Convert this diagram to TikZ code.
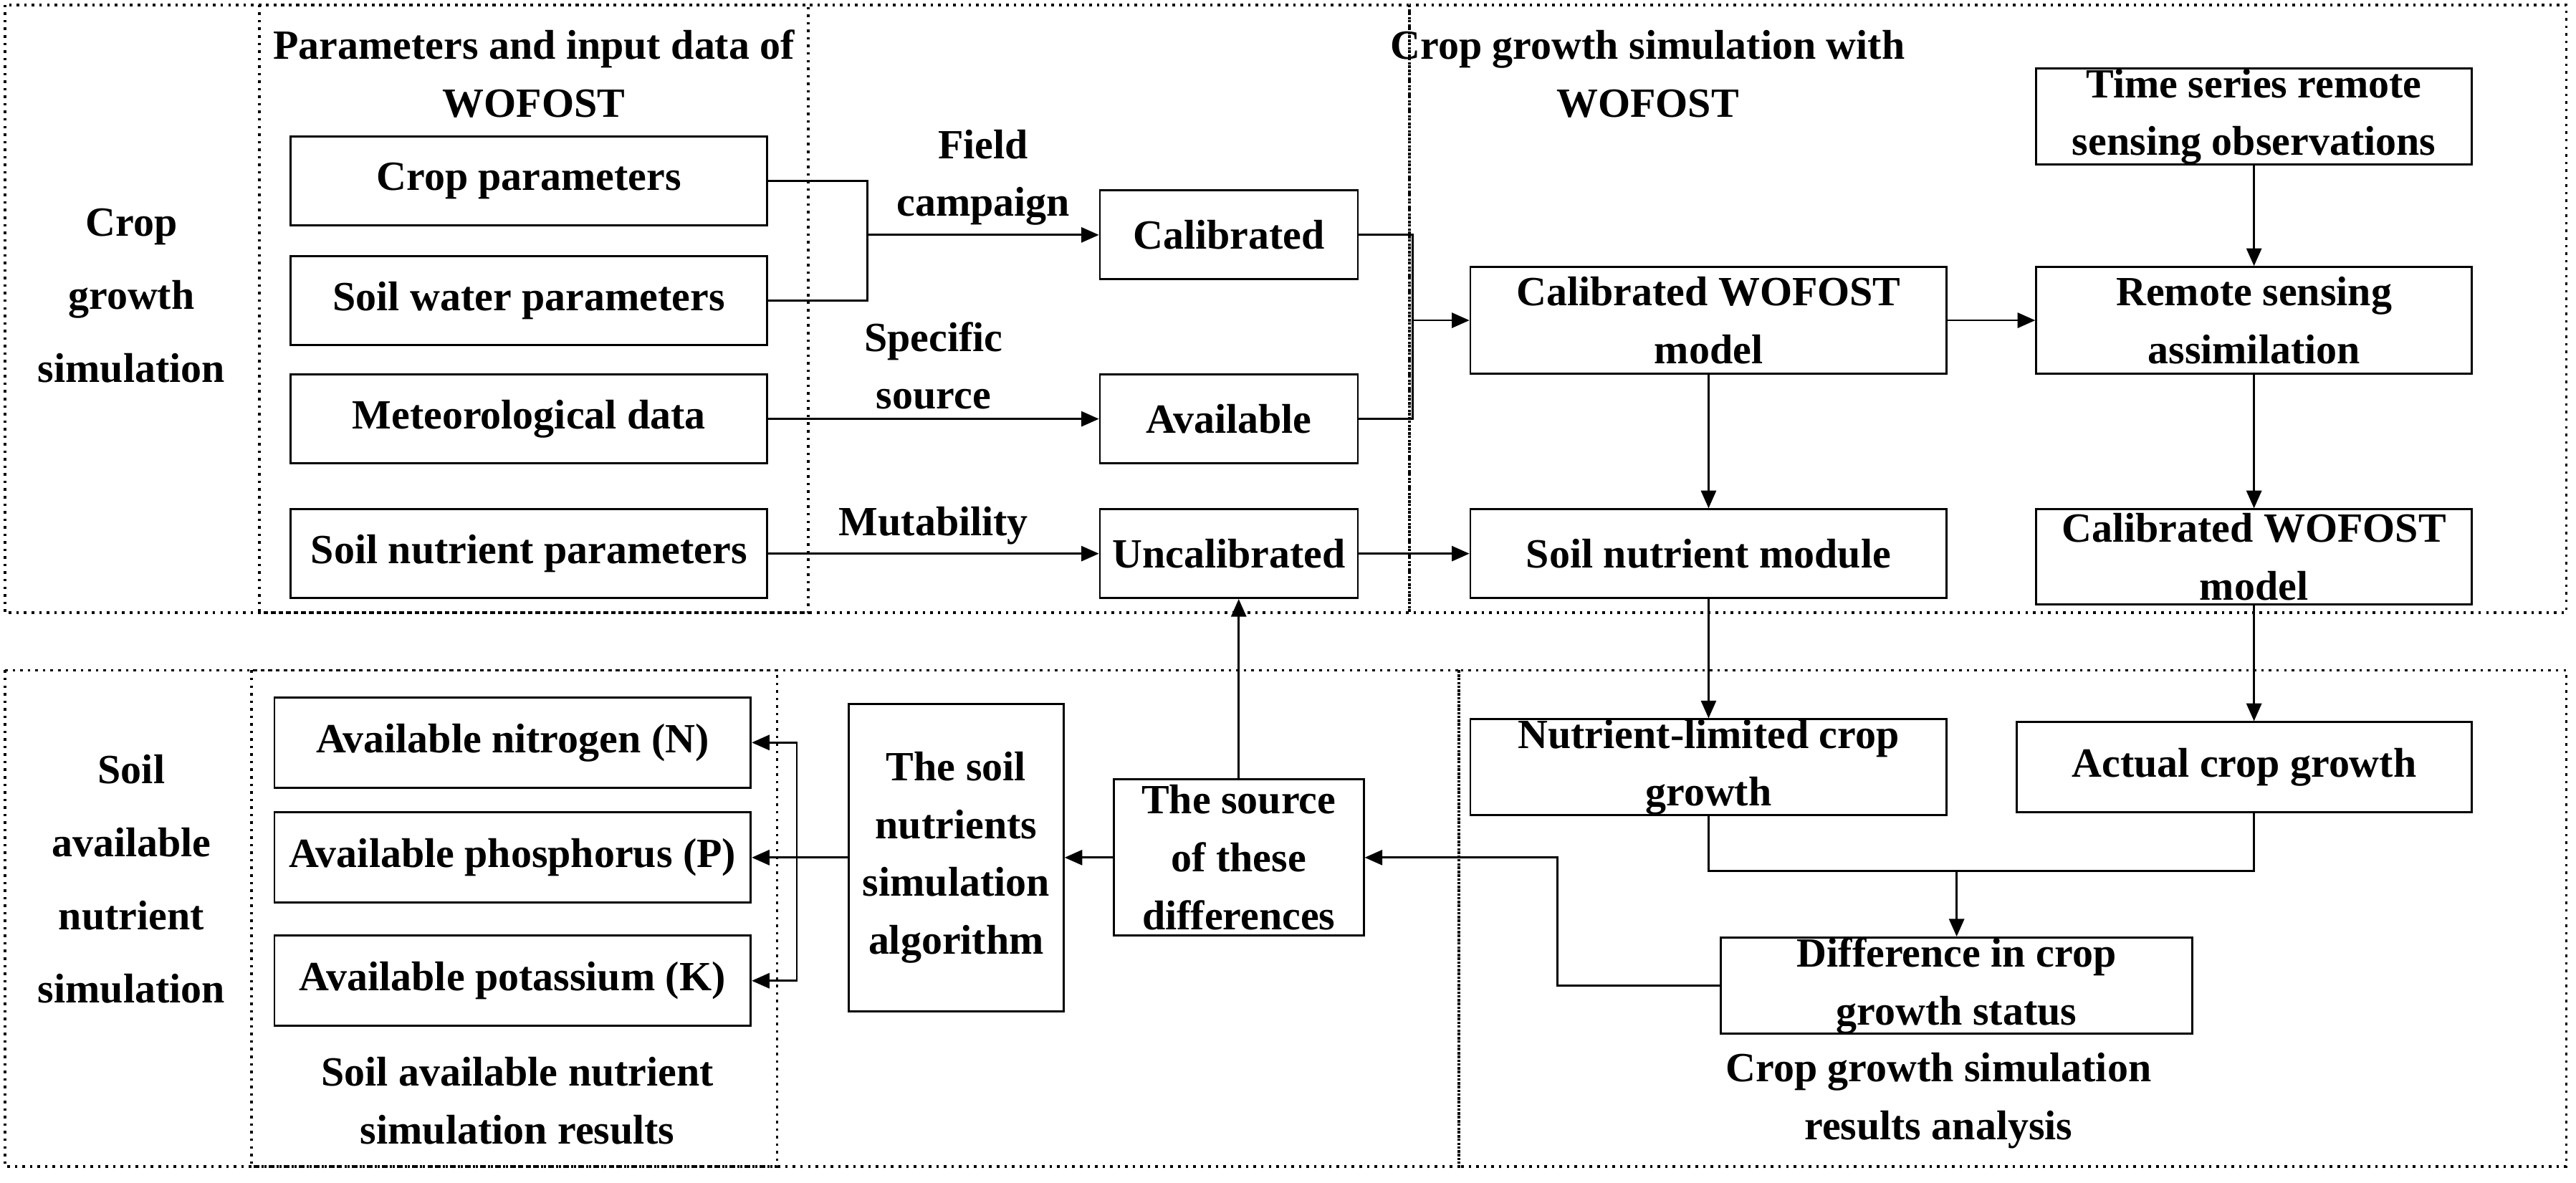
\documentclass[tikz,border=0pt]{standalone}
\usepackage{fontspec}
\setmainfont{Liberation Serif}
\usetikzlibrary{positioning, calc, arrows.meta}

\tikzset{
    box/.style = {draw, rectangle, line width = 0.8pt, align = center,
        font = \fontsize{16.5}{23}\selectfont\bfseries, inner sep = 0pt},
    lbl/.style = {align = center, font = \fontsize{16.5}{23}\selectfont\bfseries},
    zone/.style = {draw, line width = 1pt, dotted},
    link/.style = {line width = 0.8pt},
    flow/.style = {line width = 0.8pt, -{Triangle[length = 7pt, width = 6pt]}}
}

\begin{document}
\begin{tikzpicture}[x = 0.02293cm, y = -0.02293cm]
    \useasboundingbox (0,0) rectangle (1568,720);
    % dotted zones
    \draw [zone] (3,3) rectangle (858,373);
    \draw [zone] (858,3) rectangle (1562,373);
    \draw [zone] (158,3) rectangle (492,373);
    \draw [zone] (3,408) rectangle (888,710);
    \draw [zone] (888,408) rectangle (1562,710);
    \draw [zone] (153,408) rectangle (473,710);

    % zone titles
    \node [lbl, font = \fontsize{16.5}{29}\selectfont\bfseries] (tcrop) at (80,180)
        {Crop\\growth\\simulation};
    \node [lbl, font = \fontsize{16.5}{29}\selectfont\bfseries] (tsoil) at (80,535)
        {Soil\\available\\nutrient\\simulation};
    \node [lbl] (tpar) at (325,45) {Parameters and input data of\\WOFOST};
    \node [lbl] (twof) at (1003,45) {Crop growth simulation with\\WOFOST};
    \node [lbl] (tres) at (315,670) {Soil available nutrient\\simulation results};
    \node [lbl] (tana) at (1180,670) {Crop growth simulation\\results analysis};

    % input boxes
    \node [box, minimum width = 6.65cm, minimum height = 1.24cm] (cpar) at (322,110) {Crop parameters};
    \node [box, minimum width = 6.65cm, minimum height = 1.24cm] (swp) at (322,183) {Soil water parameters};
    \node [box, minimum width = 6.65cm, minimum height = 1.24cm] (met) at (322,255) {Meteorological data};
    \node [box, minimum width = 6.65cm, minimum height = 1.24cm] (snp) at (322,337) {Soil nutrient parameters};

    \node [box, minimum width = 3.6cm, minimum height = 1.24cm] (cal) at (748,143) {Calibrated};
    \node [box, minimum width = 3.6cm, minimum height = 1.24cm] (avl) at (748,255) {Available};
    \node [box, minimum width = 3.6cm, minimum height = 1.24cm] (unc) at (748,337) {Uncalibrated};

    % model boxes
    \node [box, minimum width = 6.65cm, minimum height = 1.49cm] (cwm) at (1040,195) {Calibrated WOFOST\\model};
    \node [box, minimum width = 6.08cm, minimum height = 1.24cm] (tsr) at (1372,71) {Time series remote\\sensing observations};
    \node [box, minimum width = 6.08cm, minimum height = 1.49cm] (rsa) at (1372,195) {Remote sensing\\assimilation};
    \node [box, minimum width = 6.65cm, minimum height = 1.24cm] (snm) at (1040,337) {Soil nutrient module};
    \node [box, minimum width = 6.08cm, minimum height = 1.33cm] (cwm2) at (1372,339) {Calibrated WOFOST\\model};
    \node [box, minimum width = 6.65cm, minimum height = 1.26cm] (nlg) at (1040,467) {Nutrient-limited crop\\growth};
    \node [box, minimum width = 6.35cm, minimum height = 1.26cm] (acg) at (1366,467) {Actual crop growth};
    \node [box, minimum width = 6.58cm, minimum height = 1.26cm] (dif) at (1191,600) {Difference in crop\\growth status};

    % nutrient side
    \node [box, minimum width = 3.49cm, minimum height = 2.18cm] (src) at (754,522) {The source\\of these\\differences};
    \node [box, minimum width = 3.0cm, minimum height = 4.29cm] (alg) at (582,522) {The soil\\nutrients\\simulation\\algorithm};
    \node [box, minimum width = 6.65cm, minimum height = 1.26cm] (avn) at (312,452) {Available nitrogen (N)};
    \node [box, minimum width = 6.65cm, minimum height = 1.26cm] (avp) at (312,522) {Available phosphorus (P)};
    \node [box, minimum width = 6.65cm, minimum height = 1.26cm] (avk) at (312,597) {Available potassium (K)};

    % connectors
    \coordinate (jin) at (528,143);
    \draw [link] (cpar.east) -| (jin) |- (swp.east);
    \draw [flow] (jin) -- node [lbl, above] {Field\\campaign} (cal.west);
    \draw [flow] (met.east) -- node [lbl, above] {Specific\\source} (avl.west);
    \draw [flow] (snp.east) -- node [lbl, above] {Mutability} (unc.west);
    \coordinate (jout) at (860,195);
    \draw [link] (cal.east) -| (jout) |- (avl.east);
    \draw [flow] (jout) -- (cwm.west);
    \draw [flow] (unc.east) -- (snm.west);
    \draw [flow] (cwm.east) -- (cwm.east -| rsa.west);
    \draw [flow] (tsr) -- (rsa);
    \draw [flow] (rsa) -- (cwm2);
    \draw [flow] (cwm) -- (snm);
    \draw [flow] (snm) -- (nlg);
    \draw [flow] (cwm2.south) -- (cwm2.south |- acg.north);
    \coordinate (jm) at (1191,530);
    \draw [link] (nlg.south) |- (jm) -| (cwm2.south |- acg.south);
    \draw [flow] (jm) -- (dif.north);
    \coordinate (jd) at (948,600);
    \draw [flow] (dif.west) -- (jd) |- (src.east);
    \draw [flow] (src.north) -- (src.north |- unc.south);
    \draw [flow] (src.west) -- (alg.east);
    \draw [flow] (alg.west) -- (avp.east);
    \coordinate (jb) at (485,522);
    \draw [flow] (jb) |- (avn.east);
    \draw [flow] (jb) |- (avk.east);
\end{tikzpicture}
\end{document}
